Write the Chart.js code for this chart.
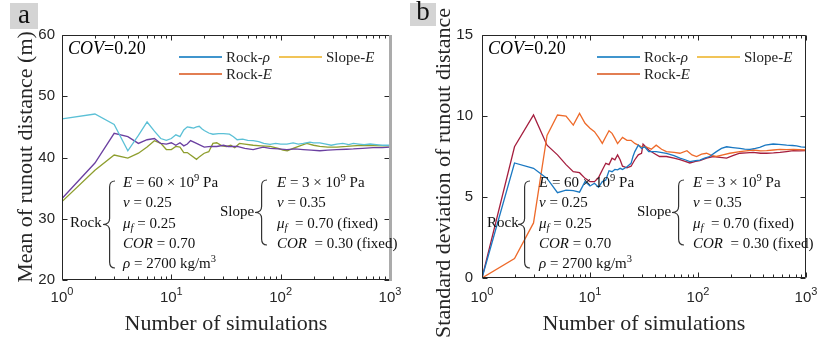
<!DOCTYPE html>
<html>
<head>
<meta charset="utf-8">
<script src="https://cdn.jsdelivr.net/npm/chart.js@4.4.0/dist/chart.umd.min.js"></script>
<style>
html, body { margin: 0; padding: 0; background: #fff; }
#wrap { position: relative; width: 829px; height: 340px; overflow: hidden; }
canvas { position: absolute; top: 0; }
</style>
</head>
<body>
<div id="wrap">
  <canvas id="meanChart" width="410" height="340" style="left:0"></canvas>
  <canvas id="stdChart" width="419" height="340" style="left:410px"></canvas>
</div>
<script>
// ---- data (n = number of simulations) ----
const meanRhoN = [1,2,3,4,5,6,7,8,9,10,11,12,13,14,15,16,17,18,19,20,22,24,27,30,34,37,40,45,50,56,63,70,80,90,100,114,130,145,161,185,200,228,260,290,326,370,420,462,520,580,657,750,850,1000];
const meanRho  = [46.3,47.1,45.4,41.1,43.6,45.8,44.3,43.1,42.8,43.1,43.7,43.4,44.5,45.0,44.9,44.8,45.0,45.1,44.7,44.4,44.0,43.8,43.9,43.9,43.8,43.4,42.9,43.0,42.8,42.75,42.6,42.3,42.15,42.3,42.2,42.2,42.4,42.2,42.3,42.5,42.4,42.4,42.2,42.0,42.2,42.3,42.1,42.3,42.2,42.1,42.2,42.1,42.0,42.0];

const meanEN = [1,2,3,4,5,6,7,8,9,10,11,12,13,14,15,17,20,23,26,30,33,40,47,56,69,80,95,114,135,161,190,228,270,326,400,462,560,700,850,1000];
const meanE  = [33.3,39.1,43.95,43.4,42.3,42.9,43.1,42.3,42.2,42.4,42.0,42.4,41.9,42.2,42.75,42.3,41.7,41.8,41.8,42.0,41.8,41.8,41.5,41.3,41.7,41.5,41.4,41.3,41.4,41.3,41.2,41.1,41.2,41.3,41.35,41.4,41.5,41.6,41.6,41.7];

const meanSlopeN = [1,2,3,4,5,6,7,8,9,10,11,12,13,14,15,17,18,19,20,22,24,26,29,32,35,38,42,47,56,66,80,95,105,115,130,150,173,200,228,270,326,400,462,560,700,850,1000];
const meanSlope  = [32.8,37.9,40.4,39.9,40.7,41.7,42.75,42.3,41.3,41.3,41.8,41.7,40.8,40.8,40.4,39.7,40.1,40.4,40.7,40.95,42.3,42.4,41.9,41.8,42.0,41.6,42.3,42.2,42.0,41.9,41.8,41.5,41.2,41.1,41.5,41.9,42.3,42.0,41.8,41.7,41.7,41.8,41.9,42.0,41.95,41.9,41.9];

const stdRhoN = [1,2,3,4,5,6,7,8,9,10,11,12,13,14,15,16,17,18,19,20,22,24,25,26,28,30,32,35,41,51,60,68,76,84,95,104,115,128,148,165,184,210,244,270,303,340,373,420,497,560,662,750,818,900,1000];
const stdRho  = [0,7.1,6.77,6.15,5.27,5.43,5.39,5.3,5.95,5.68,5.85,5.6,5.95,6.05,6.62,6.56,6.7,6.68,6.77,6.7,6.87,7.08,7.5,7.8,8.2,8.0,8.1,7.8,7.8,7.7,7.55,7.4,7.3,7.18,7.25,7.28,7.4,7.5,7.8,8.0,8.1,8.05,8.0,7.95,7.94,8.0,8.07,8.2,8.27,8.25,8.2,8.18,8.15,8.1,8.07];

const stdEN = [1,2,3,4,5,6,7,8,9,10,11,12,13,14,15,16,17,18,19,20,22,24,26,28,30,33,37,41,46,51,60,68,79,88,97,108,120,135,148,170,197,244,280,324,380,432,500,574,660,763,870,1000];
const stdE  = [0,1.2,3.4,8.8,10.06,10.0,9.44,10.16,9.55,9.24,9.03,8.68,8.31,8.72,9.09,8.93,8.62,8.3,8.5,8.68,8.5,8.5,8.31,8.2,8.1,8.1,7.95,8.2,7.95,7.8,7.75,7.7,7.86,7.6,7.5,7.65,7.7,7.55,7.5,7.6,7.7,7.8,7.85,7.9,7.85,7.86,7.9,7.94,7.92,7.94,7.92,7.9];

const stdSlopeN = [1,2,3,4,5,6,7,8,9,10,11,12,13,14,15,16,17,18,19,20,22,24,26,28,30,31,35,39,44,51,60,68,76,84,95,104,120,138,160,184,210,244,280,324,380,432,500,574,660,763,870,1000];
const stdSlope  = [0,8.1,10.06,8.2,7.6,7.0,6.56,6.5,6.15,5.95,5.95,6.2,6.67,7.08,7.0,7.4,7.3,7.6,7.3,6.9,6.8,6.9,7.3,7.6,7.7,8.27,7.9,7.7,7.5,7.5,7.4,7.3,7.2,7.1,7.2,7.25,7.4,7.5,7.45,7.4,7.55,7.7,7.72,7.75,7.7,7.7,7.72,7.75,7.8,7.86,7.85,7.86];

const meanTicks = [20, 30, 40, 50, 60];
const stdTicks = [0, 5, 10, 15];
const decades = [0, 1, 2, 3];

const legendItems = [
  { runs: [['Rock-', 'r'], ['ρ', 'i']], color: '#0072BD', col: 0, row: 0 },
  { runs: [['Slope-', 'r'], ['E', 'i']], color: '#EDB120', col: 1, row: 0 },
  { runs: [['Rock-', 'r'], ['E', 'i']], color: '#D95319', col: 0, row: 1 }
];

const rockLines = [
  [['E', 'i'], [' = 60 × 10', 'r'], ['9', 'sup'], [' Pa', 'r']],
  [['ν', 'i'], [' = 0.25', 'r']],
  [['μ', 'i'], ['f', 'isub'], [' = 0.25', 'r']],
  [['COR', 'i'], [' = 0.70', 'r']],
  [['ρ', 'i'], [' = 2700 kg/m', 'r'], ['3', 'sup']]
];
const slopeLines = [
  [['E', 'i'], [' = 3 × 10', 'r'], ['9', 'sup'], [' Pa', 'r']],
  [['ν', 'i'], [' = 0.35', 'r']],
  [['μ', 'i'], ['f', 'isub'], ['  = 0.70 (fixed)', 'r']],
  [['COR', 'i'], ['  = 0.30 (fixed)', 'r']]
];

const SERIF = '"Liberation Serif", "Times New Roman", serif';
const SANS = '"Liberation Sans", Arial, sans-serif';

function pts(xs, ys) {
  return xs.map((v, i) => ({ x: v, y: ys[i] }));
}

function drawRuns(ctx, runs, x, y, size) {
  runs.forEach(([txt, st]) => {
    let fs = size, dy = 0;
    if (st.includes('sup')) { fs = size * 0.7; dy = -size * 0.4; }
    if (st.includes('sub')) { fs = size * 0.7; dy = size * 0.25; }
    ctx.font = (st.includes('i') ? 'italic ' : '') + fs + 'px ' + SERIF;
    ctx.fillText(txt, x, y + dy);
    x += ctx.measureText(txt).width;
  });
}

function brace(ctx, tipX, top, bot, w) {
  const mid = (top + bot) / 2, xm = tipX + w * 0.55, xe = tipX + w, r = 6;
  ctx.beginPath();
  ctx.moveTo(xe, top);
  ctx.quadraticCurveTo(xm, top, xm, top + r);
  ctx.lineTo(xm, mid - r);
  ctx.quadraticCurveTo(xm, mid, tipX, mid);
  ctx.quadraticCurveTo(xm, mid, xm, mid + r);
  ctx.lineTo(xm, bot - r);
  ctx.quadraticCurveTo(xm, bot, xe, bot);
  ctx.stroke();
}

// axes box, inward ticks, labels, legend and annotations, MATLAB style
function panelDeco(p) {
  return {
    id: 'panelDeco',
    afterDatasetsDraw(chart) {
      const ctx = chart.ctx, a = chart.chartArea;
      const xs = chart.scales.x, ys = chart.scales.y;
      ctx.save();
      ctx.strokeStyle = '#262626';
      ctx.lineWidth = 1;
      const L = Math.round(a.left) + 0.5, R = Math.round(a.right) - 0.5;
      const T = Math.round(a.top) + 0.5, B = Math.round(a.bottom) - 0.5;
      ctx.beginPath();
      ctx.moveTo(R, T); ctx.lineTo(L, T); ctx.lineTo(L, B); ctx.lineTo(R, B);
      if (!p.grayRight) ctx.lineTo(R, T);
      // x ticks (log, with minors)
      decades.forEach(d => {
        for (let m = 1; m <= 9; m++) {
          const v = m * Math.pow(10, d);
          if (v > 1000) break;
          const px = Math.round(xs.getPixelForValue(v)) + 0.5;
          const len = m === 1 ? 5 : 3;
          ctx.moveTo(px, B); ctx.lineTo(px, B - len);
          ctx.moveTo(px, T); ctx.lineTo(px, T + len);
        }
      });
      p.yTicks.forEach(v => {
        const py = Math.round(ys.getPixelForValue(v)) + 0.5;
        ctx.moveTo(L, py); ctx.lineTo(L + 5, py);
        ctx.moveTo(R, py); ctx.lineTo(R - 5, py);
      });
      ctx.stroke();
      if (p.grayRight) {
        ctx.strokeStyle = '#ababab';
        ctx.lineWidth = 3;
        ctx.beginPath();
        ctx.moveTo(a.right + 0.5, a.top); ctx.lineTo(a.right + 0.5, a.bottom + 1);
        ctx.stroke();
      }

      // tick labels
      ctx.fillStyle = '#262626';
      ctx.font = '15px ' + SANS;
      ctx.textAlign = 'right';
      ctx.textBaseline = 'middle';
      p.yTicks.forEach(v => ctx.fillText(String(v), a.left - p.yLabelGap, ys.getPixelForValue(v)));
      ctx.textAlign = 'left';
      ctx.textBaseline = 'alphabetic';
      decades.forEach(d => {
        const px = xs.getPixelForValue(Math.pow(10, d));
        ctx.font = '15px ' + SANS;
        const w1 = ctx.measureText('10').width;
        ctx.font = '11px ' + SANS;
        const w2 = ctx.measureText(String(d)).width;
        const x0 = px - (w1 + w2) / 2;
        ctx.font = '15px ' + SANS;
        ctx.fillText('10', x0, 302);
        ctx.font = '11px ' + SANS;
        ctx.fillText(String(d), x0 + w1, 295);
      });

      // axis titles
      ctx.fillStyle = '#262626';
      ctx.font = '22px ' + SERIF;
      ctx.textAlign = 'center';
      ctx.fillText('Number of simulations', (a.left + a.right) / 2, 330);
      ctx.save();
      ctx.translate(p.yTitleX, p.yTitleY);
      ctx.rotate(-Math.PI / 2);
      ctx.textBaseline = 'middle';
      ctx.fillText(p.yTitle, 0, 0);
      ctx.restore();

      // panel letter
      ctx.fillStyle = '#d4d4d4';
      ctx.fillRect(p.tag.x, p.tag.y, p.tag.w, p.tag.h);
      ctx.fillStyle = '#111';
      ctx.font = '27px ' + SERIF;
      ctx.textAlign = 'center';
      ctx.fillText(p.tag.text, p.tag.x + p.tag.w / 2, p.tag.y + p.tag.h - 6);

      // COV
      ctx.textAlign = 'left';
      ctx.fillStyle = '#000';
      drawRuns(ctx, [['COV', 'i'], ['=0.20', 'r']], p.cov.x, p.cov.y, 18);

      // legend
      legendItems.forEach(it => {
        const lx = p.legend.cols[it.col], ly = p.legend.rows[it.row];
        ctx.strokeStyle = it.color;
        ctx.lineWidth = 1.3;
        ctx.beginPath();
        ctx.moveTo(lx, ly); ctx.lineTo(lx + 43, ly);
        ctx.stroke();
        ctx.fillStyle = '#222';
        drawRuns(ctx, it.runs, lx + 47, ly + 5, 15);
      });

      // parameter blocks
      ctx.strokeStyle = '#333';
      ctx.lineWidth = 1.2;
      ctx.fillStyle = '#111';
      drawRuns(ctx, [['Rock', 'r']], p.rock.labelX, 227, 15);
      brace(ctx, p.rock.tip, 181, 268, 12);
      rockLines.forEach((ln, i) => drawRuns(ctx, ln, p.rock.x, 187 + i * 20.3, 15));
      drawRuns(ctx, [['Slope', 'r']], p.slope.labelX, 216, 15);
      brace(ctx, p.slope.tip, 180, 245, 12);
      slopeLines.forEach((ln, i) => drawRuns(ctx, ln, p.slope.x, 187 + i * 20.3, 15));
      ctx.restore();
    }
  };
}

function makeChart(id, datasets, yMin, yMax, pad, deco) {
  return new Chart(document.getElementById(id), {
    type: 'line',
    data: { datasets },
    options: {
      responsive: false,
      animation: false,
      devicePixelRatio: 1,
      layout: { padding: pad },
      elements: { point: { radius: 0 }, line: { tension: 0, borderWidth: 1.3 } },
      scales: {
        x: { type: 'logarithmic', min: 1, max: 1000, display: false },
        y: { type: 'linear', min: yMin, max: yMax, display: false }
      },
      plugins: { legend: { display: false }, tooltip: { enabled: false } }
    },
    plugins: [panelDeco(deco)]
  });
}

makeChart('meanChart', [
  { label: 'Rock-ρ', data: pts(meanRhoN, meanRho), borderColor: '#5BC0D6' },
  { label: 'Rock-E', data: pts(meanEN, meanE), borderColor: '#6A3FA0' },
  { label: 'Slope-E', data: pts(meanSlopeN, meanSlope), borderColor: '#8E9E2E' }
], 20, 60, { left: 62, top: 35, right: 20, bottom: 60 }, {
  yTicks: meanTicks, yLabelGap: 7, grayRight: true,
  yTitle: 'Mean of runout distance (m)', yTitleX: 26, yTitleY: 157,
  tag: { text: 'a', x: 10, y: 3, w: 28, h: 26 },
  cov: { x: 68, y: 54 },
  legend: { cols: [179, 279], rows: [57, 74] },
  rock: { labelX: 70, tip: 103, x: 123 },
  slope: { labelX: 220, tip: 255, x: 277 }
});

makeChart('stdChart', [
  { label: 'Rock-ρ', data: pts(stdRhoN, stdRho), borderColor: '#1A78C2' },
  { label: 'Rock-E', data: pts(stdEN, stdE), borderColor: '#EE6A2A' },
  { label: 'Slope-E', data: pts(stdSlopeN, stdSlope), borderColor: '#A51E3E' }
], 0, 15, { left: 72, top: 35, right: 23, bottom: 62 }, {
  yTicks: stdTicks, yLabelGap: 9, grayRight: false,
  yTitle: 'Standard deviation of runout distance', yTitleX: 34, yTitleY: 173,
  tag: { text: 'b', x: 0, y: 3, w: 26, h: 23 },
  cov: { x: 78, y: 54 },
  legend: { cols: [187, 287], rows: [57, 74] },
  rock: { labelX: 77, tip: 108, x: 129 },
  slope: { labelX: 227, tip: 262, x: 283 }
});
</script>
</body>
</html>
